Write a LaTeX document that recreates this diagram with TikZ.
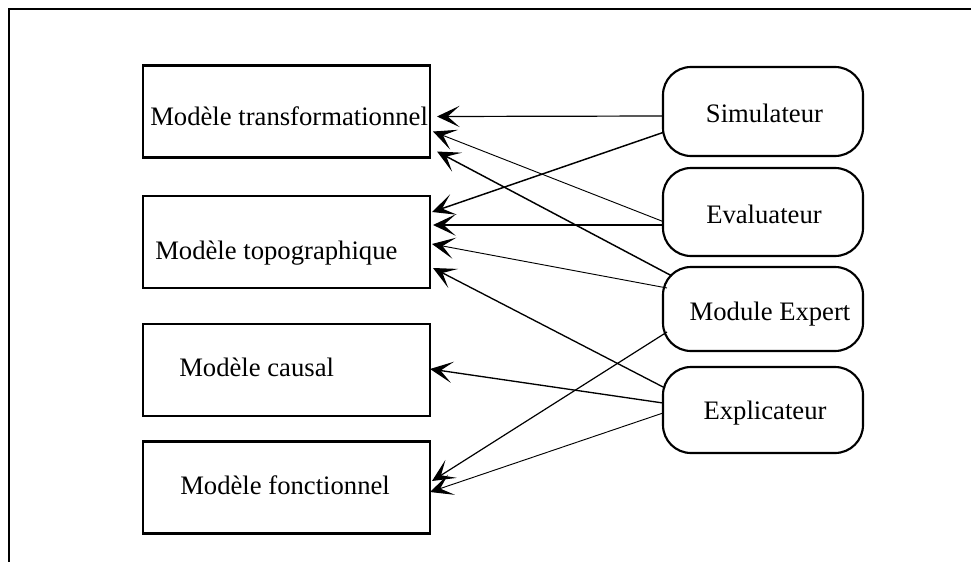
\documentclass[tikz,border=0pt]{standalone}
\usepackage{fontspec}
\setmainfont{Liberation Serif}
\usetikzlibrary{arrows.meta,calc}
\begin{document}
\begin{tikzpicture}[x=0.75pt,y=-0.75pt,
  model/.style={draw,line width=2pt,minimum width=215.25pt,minimum height=69pt,inner sep=0pt,outer sep=0pt},
  tool/.style={draw,line width=1.6pt,rounded corners=21pt,minimum width=150pt,inner sep=0pt,outer sep=0pt},
  lbl/.style={inner sep=0pt,font=\fontsize{20pt}{24pt}\selectfont},
  arr/.style={-{Stealth[length=17pt,width=16pt,inset=9pt]}}]
\useasboundingbox (0,0) rectangle (971,561);
\draw[line width=1.6pt] (980,9) -- (9,9) -- (9,570);
% left boxes
\node[model] (trans) at (286.5,111.5) {};
\node[model] (topo) at (286.5,242) {};
\node[model] (causal) at (286.5,370) {};
\node[model] (fonc) at (286.5,487.5) {};
\node[lbl,anchor=base west] (ttrans) at (150,125) {Modèle transformationnel};
\node[lbl,anchor=base west] (ttopo) at (155,259) {Modèle topographique};
\node[lbl,anchor=base west] (tcausal) at (179,376) {Modèle causal};
\node[lbl,anchor=base west] (tfonc) at (180,494) {Modèle fonctionnel};
% right nodes
\node[tool,minimum height=66.75pt] (sim) at (763,111.5) {};
\node[tool,minimum height=66pt] (eval) at (763,212) {};
\node[tool,minimum height=63pt] (mod) at (763,309) {};
\node[tool,minimum height=64.5pt] (expl) at (763,410) {};
\node[lbl,anchor=base] (tsim) at (764.5,122) {Simulateur};
\node[lbl,anchor=base] (teval) at (764,223) {Evaluateur};
\node[lbl,anchor=base] (tmod) at (770,320.5) {Module Expert};
\node[lbl,anchor=base] (texpl) at (765,419) {Explicateur};
% connectors
\draw[arr,line width=0.9pt] ($(sim.west)+(0,4.5)$) -- ($(trans.east)+(7,5)$);
\draw[arr,line width=1.1pt] ($(sim.west)+(0,21)$) -- ($(topo.east)+(2,-30)$);
\draw[arr,line width=0.7pt] ($(eval.west)+(0,9.5)$) -- ($(trans.east)+(3,20)$);
\draw[arr,line width=1.1pt] ($(mod.west)+(9,-33)$) -- ($(trans.east)+(7,40)$);
\draw[arr,line width=1.5pt] ($(eval.west)+(0,13)$) -- ($(topo.east)+(3,-17)$);
\draw[arr,line width=0.7pt] ($(mod.west)+(4,-21)$) -- ($(topo.east)+(2,2)$);
\draw[arr,line width=1pt] ($(expl.west)+(2,-22)$) -- ($(topo.east)+(3,26)$);
\draw[arr,line width=1pt] ($(expl.west)+(0,-7)$) -- ($(causal.east)+(0,-1)$);
\draw[arr,line width=0.9pt] ($(mod.west)+(4,23)$) -- ($(fonc.east)+(2,-6.5)$);
\draw[arr,line width=0.7pt] ($(expl.west)+(0,3)$) -- ($(fonc.east)+(0,4.5)$);
\end{tikzpicture}
\end{document}
